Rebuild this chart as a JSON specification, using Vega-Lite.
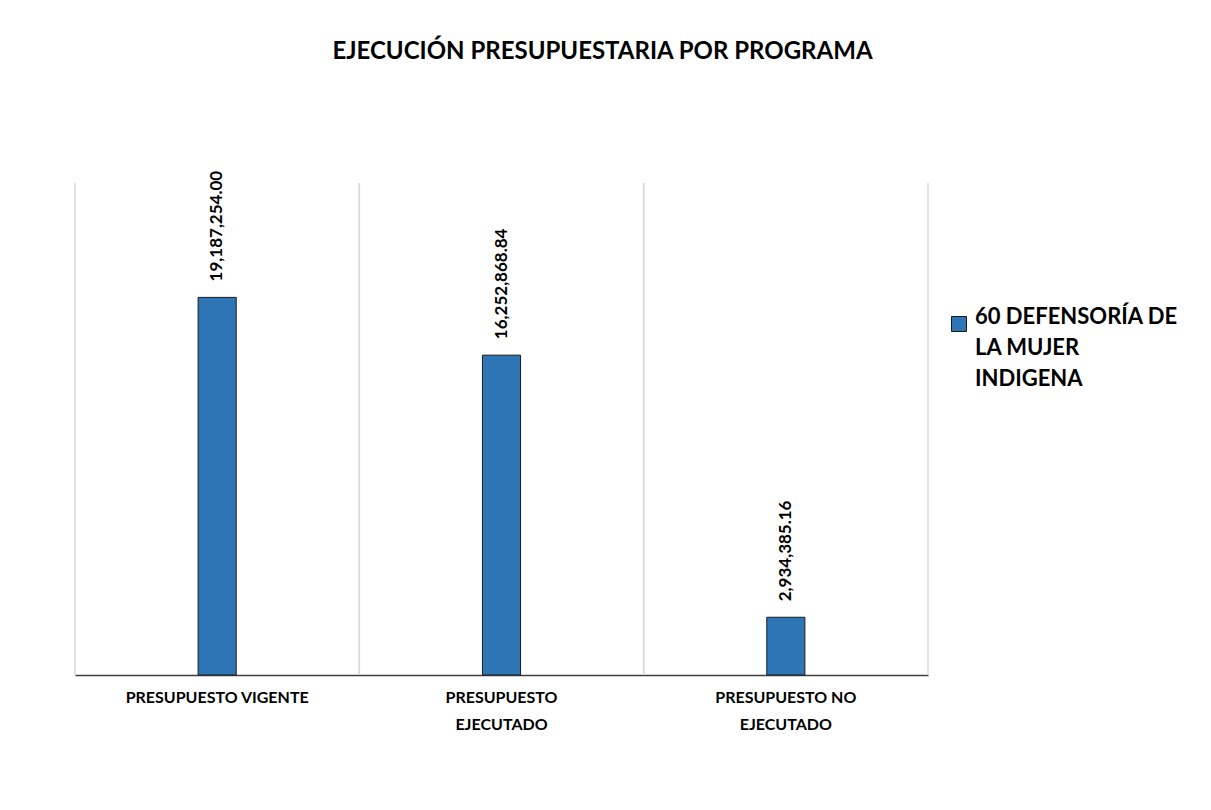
{
  "$schema": "https://vega.github.io/schema/vega-lite/v6.json",
  "width": 853,
  "height": 492,
  "autosize": {"type": "none"},
  "padding": {"left": 75, "top": 183, "right": 283, "bottom": 135},
  "background": "white",
  "config": {
    "font": "Lato",
    "view": {"stroke": null},
    "style": {"guide-label": {"lineHeight": 31}}
  },
  "title": {
    "text": "EJECUCIÓN PRESUPUESTARIA POR PROGRAMA",
    "fontSize": 24,
    "fontWeight": "bold",
    "color": "#000000",
    "anchor": "middle",
    "frame": "group",
    "dx": 101,
    "offset": 107
  },
  "data": {
    "values": [
      {"categoria": "PRESUPUESTO VIGENTE", "serie": "60 DEFENSORÍA DE LA MUJER INDIGENA", "monto": 19187254.00},
      {"categoria": "PRESUPUESTO EJECUTADO", "serie": "60 DEFENSORÍA DE LA MUJER INDIGENA", "monto": 16252868.84},
      {"categoria": "PRESUPUESTO NO EJECUTADO", "serie": "60 DEFENSORÍA DE LA MUJER INDIGENA", "monto": 2934385.16}
    ]
  },
  "encoding": {
    "x": {
      "field": "categoria",
      "type": "nominal",
      "sort": null,
      "scale": {"paddingInner": 0, "paddingOuter": 0},
      "axis": {
        "title": null,
        "labelAngle": 0,
        "labelFontSize": 16,
        "labelFontWeight": "bold",
        "labelColor": "#000000",
        "labelPadding": 14,
        "labelBaseline": "top",
        "labelLineHeight": 27,
        "labelLimit": 400,
        "labelExpr": "datum.value == 'PRESUPUESTO VIGENTE' ? datum.value : [slice(datum.value, 0, lastindexof(datum.value, ' ')), 'EJECUTADO']",
        "ticks": false,
        "grid": false,
        "domainColor": "#404040",
        "domainWidth": 1.5
      }
    },
    "y": {
      "field": "monto",
      "type": "quantitative",
      "scale": {"domain": [0, 25000000]},
      "axis": null
    }
  },
  "layer": [
    {
      "mark": {"type": "rule", "color": "#d9d9d9", "strokeWidth": 1.5},
      "encoding": {
        "x": {"field": "categoria", "type": "nominal", "sort": null, "bandPosition": 0},
        "y": {"datum": 25000000},
        "y2": {"datum": 0}
      }
    },
    {
      "mark": {"type": "rule", "color": "#d9d9d9", "strokeWidth": 1.5},
      "encoding": {
        "x": {"field": "categoria", "type": "nominal", "sort": null, "bandPosition": 1},
        "y": {"datum": 25000000},
        "y2": {"datum": 0}
      }
    },
    {
      "mark": {"type": "bar", "stroke": "#1a1a1a", "strokeWidth": 1, "width": {"band": 0.134}},
      "encoding": {
        "color": {
          "field": "serie",
          "type": "nominal",
          "scale": {"range": ["#2e75b6"]},
          "legend": {
            "title": null,
            "orient": "none",
            "legendX": 873,
            "legendY": 130,
            "symbolType": "square",
            "symbolSize": 225,
            "symbolStrokeColor": "#1a1a1a",
            "symbolStrokeWidth": 1,
            "labelFontSize": 22,
            "labelFontWeight": "bold",
            "labelColor": "#000000",
            "labelBaseline": "alphabetic",
            "labelLineHeight": 31,
            "labelOffset": 5,
            "labelLimit": 400,
            "labelExpr": "['60 DEFENSORÍA DE', 'LA MUJER', 'INDIGENA']"
          }
        }
      }
    },
    {
      "mark": {"type": "text", "angle": 270, "align": "left", "baseline": "middle", "dx": 16, "fontSize": 17, "fontWeight": "bold", "color": "#000000"},
      "encoding": {
        "text": {"field": "monto", "type": "quantitative", "format": ",.2f"}
      }
    }
  ]
}
